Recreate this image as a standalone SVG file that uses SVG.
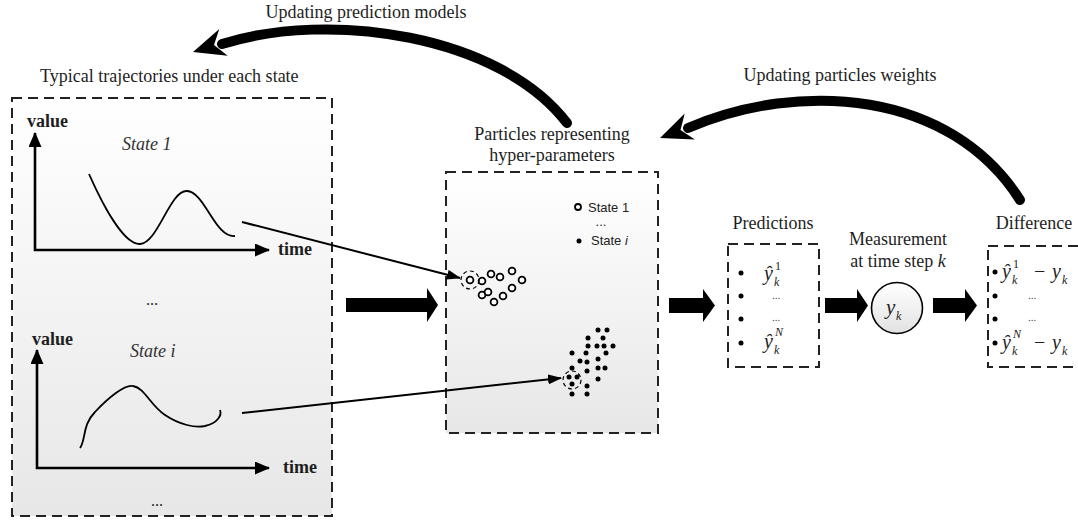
<svg xmlns="http://www.w3.org/2000/svg" width="1078" height="520" viewBox="0 0 1078 520">
<style>
.t{font-family:"Liberation Serif","Times New Roman",serif;fill:#1e1e1e}
.s18{font-size:18px}
.b{font-weight:bold}
.it{font-style:italic}
.dash{fill:none;stroke:#222;stroke-width:2;stroke-dasharray:10 6}
.ax{fill:none;stroke:#000;stroke-width:2.6}
.cur{fill:none;stroke:#000;stroke-width:1.8}
.thin{fill:none;stroke:#000;stroke-width:2}
.big{fill:none;stroke:#000;stroke-width:10;stroke-linecap:round}
.blk{fill:#000}
.po{fill:#fff;stroke:#000;stroke-width:1.8}
.pd{fill:#000}
.dc{fill:none;stroke:#000;stroke-width:1.2;stroke-dasharray:4 3}
.sans{font-family:"Liberation Sans",Arial,sans-serif;font-size:13px;fill:#222}
.m{font-family:"Liberation Serif","Times New Roman",serif;font-style:italic;fill:#222}
</style>
<defs>
<linearGradient id="gbox" x1="0" y1="0" x2="0" y2="1">
<stop offset="0" stop-color="#ffffff"/>
<stop offset="1" stop-color="#e7e7e7"/>
</linearGradient>
<linearGradient id="gcir" x1="0" y1="0" x2="0" y2="1">
<stop offset="0" stop-color="#ffffff"/>
<stop offset="1" stop-color="#e2e2e2"/>
</linearGradient>
<marker id="ah" viewBox="0 0 14 10" refX="13" refY="5" markerWidth="14" markerHeight="10" orient="auto" markerUnits="userSpaceOnUse">
<path d="M0,0 L14,5 L0,10 Z" fill="#000"/>
</marker>
<marker id="axh" viewBox="0 0 15 13" refX="14" refY="6.5" markerWidth="15" markerHeight="13" orient="auto-start-reverse" markerUnits="userSpaceOnUse">
<path d="M0,0 L15,6.5 L0,13 Z" fill="#000"/>
</marker>
</defs>
<rect width="1078" height="520" fill="#fff"/>

<g id="trajectories">
<text class="t s18" x="40" y="82">Typical trajectories under each state</text>
<rect class="dash" x="12" y="98" width="320" height="418" style="fill:url(#gbox)"/>
<path class="ax" d="M35,133 V250 H269" marker-start="url(#axh)" marker-end="url(#axh)"/>
<text class="t s18 b" x="27" y="127">value</text>
<text class="t s18 b" x="278" y="255">time</text>
<text class="t s18 it" x="122" y="150" style="fill:#333">State 1</text>
<path class="cur" d="M89,174 C105,210 125,245 140,244 C158,243 170,190 187,191 C205,192 215,238 235,236"/>
<text class="t" x="152" y="305" font-size="16" text-anchor="middle">...</text>
<path class="ax" d="M37,350 V468 H269" marker-start="url(#axh)" marker-end="url(#axh)"/>
<text class="t s18 b" x="32" y="345">value</text>
<text class="t s18 b" x="283" y="473">time</text>
<text class="t s18 it" x="130" y="357" style="fill:#333">State i</text>
<path class="cur" d="M80,448 C86,440 82,425 95,412 C108,398 125,384 133,386 C145,388 150,405 165,415 C180,425 195,428 205,426 C218,423 222,415 220,410"/>
<text class="t" x="157" y="506" font-size="16" text-anchor="middle">...</text>
</g>

<g id="particles">
<text class="t s18" x="552" y="140" text-anchor="middle">Particles representing</text>
<text class="t s18" x="552" y="161" text-anchor="middle">hyper-parameters</text>
<rect class="dash" x="446" y="172" width="212" height="261" style="fill:url(#gbox)"/>
<circle class="po" cx="578" cy="207" r="3"/>
<text class="sans" x="588" y="212">State 1</text>
<text class="sans" x="601" y="226" font-size="9" text-anchor="middle">...</text>
<circle class="pd" cx="579" cy="241" r="2.5"/>
<text class="sans" x="591" y="245">State <tspan font-style="italic">i</tspan></text>
<g>
<circle class="po" cx="470" cy="280" r="3.4"/>
<circle class="po" cx="482" cy="281" r="3.4"/>
<circle class="po" cx="491" cy="274" r="3.4"/>
<circle class="po" cx="500" cy="277" r="3.4"/>
<circle class="po" cx="512" cy="271" r="3.4"/>
<circle class="po" cx="522" cy="280" r="3.4"/>
<circle class="po" cx="482" cy="295" r="3.4"/>
<circle class="po" cx="488" cy="292" r="3.4"/>
<circle class="po" cx="494" cy="302" r="3.4"/>
<circle class="po" cx="503" cy="296" r="3.4"/>
<circle class="po" cx="512" cy="288" r="3.4"/>
</g>
<circle class="dc" cx="470" cy="280" r="9"/>
<g>
<circle class="pd" cx="598" cy="330" r="2.5"/>
<circle class="pd" cx="607" cy="330" r="2.5"/>
<circle class="pd" cx="588" cy="338" r="2.5"/>
<circle class="pd" cx="603" cy="338" r="2.5"/>
<circle class="pd" cx="588" cy="346" r="2.5"/>
<circle class="pd" cx="597" cy="346" r="2.5"/>
<circle class="pd" cx="604" cy="346" r="2.5"/>
<circle class="pd" cx="613" cy="346" r="2.5"/>
<circle class="pd" cx="572" cy="353" r="2.5"/>
<circle class="pd" cx="586" cy="353" r="2.5"/>
<circle class="pd" cx="606" cy="353" r="2.5"/>
<circle class="pd" cx="580" cy="361" r="2.5"/>
<circle class="pd" cx="587" cy="362" r="2.5"/>
<circle class="pd" cx="598" cy="359" r="2.5"/>
<circle class="pd" cx="572" cy="368" r="2.5"/>
<circle class="pd" cx="587" cy="371" r="2.5"/>
<circle class="pd" cx="598" cy="368" r="2.5"/>
<circle class="pd" cx="605" cy="368" r="2.5"/>
<circle class="pd" cx="569" cy="377" r="2.5"/>
<circle class="pd" cx="577" cy="377" r="2.5"/>
<circle class="pd" cx="598" cy="379" r="2.5"/>
<circle class="pd" cx="572" cy="384" r="2.5"/>
<circle class="pd" cx="587" cy="386" r="2.5"/>
<circle class="pd" cx="572" cy="394" r="2.5"/>
<circle class="pd" cx="587" cy="394" r="2.5"/>
</g>
<circle class="dc" cx="572" cy="380" r="9"/>
</g>

<g id="predictions">
<text class="t s18" x="773" y="229" text-anchor="middle">Predictions</text>
<rect class="dash" x="728" y="244" width="91" height="123" fill="#fff"/>
<circle class="pd" cx="741" cy="273" r="2.5"/>
<circle class="pd" cx="741" cy="296" r="2.5"/>
<circle class="pd" cx="741" cy="319" r="2.5"/>
<circle class="pd" cx="741" cy="343" r="2.5"/>
<text class="m" x="764" y="280" font-size="20">ŷ</text>
<text class="m" x="775" y="270" font-size="12" style="font-style:normal">1</text>
<text class="m" x="774" y="286" font-size="12">k</text>
<text class="t" x="776" y="299" font-size="11" text-anchor="middle" style="fill:#444">...</text>
<text class="t" x="776" y="321" font-size="11" text-anchor="middle" style="fill:#444">...</text>
<text class="m" x="764" y="348" font-size="20">ŷ</text>
<text class="m" x="775" y="336" font-size="12">N</text>
<text class="m" x="774" y="354" font-size="12">k</text>
</g>

<g id="measurement">
<text class="t s18" x="898" y="245" text-anchor="middle">Measurement</text>
<text class="t s18" x="898" y="267" text-anchor="middle">at time step <tspan font-style="italic">k</tspan></text>
<circle cx="897" cy="308" r="25.5" fill="url(#gcir)" stroke="#000" stroke-width="1.6"/>
<text class="m" x="886" y="314" font-size="21">y</text>
<text class="m" x="896" y="320" font-size="12">k</text>
</g>

<g id="difference">
<text class="t s18" x="1034" y="229" text-anchor="middle">Difference</text>
<rect class="dash" x="988" y="246" width="110" height="121" fill="#fff"/>
<circle class="pd" cx="995" cy="272" r="2.5"/>
<circle class="pd" cx="995" cy="296" r="2.5"/>
<circle class="pd" cx="995" cy="319" r="2.5"/>
<circle class="pd" cx="995" cy="343" r="2.5"/>
<text class="m" x="1002" y="278" font-size="20">ŷ</text>
<text class="m" x="1013" y="268" font-size="12" style="font-style:normal">1</text>
<text class="m" x="1012" y="284" font-size="12">k</text>
<text class="t" x="1034" y="278" font-size="20">−</text>
<text class="m" x="1052" y="278" font-size="20">y</text>
<text class="m" x="1062" y="284" font-size="12">k</text>
<text class="t" x="1032" y="299" font-size="11" text-anchor="middle" style="fill:#444">...</text>
<text class="t" x="1032" y="321" font-size="11" text-anchor="middle" style="fill:#444">...</text>
<text class="m" x="1002" y="349" font-size="20">ŷ</text>
<text class="m" x="1013" y="338" font-size="12">N</text>
<text class="m" x="1012" y="355" font-size="12">k</text>
<text class="t" x="1034" y="349" font-size="20">−</text>
<text class="m" x="1052" y="349" font-size="20">y</text>
<text class="m" x="1062" y="355" font-size="12">k</text>
</g>

<g id="connectors">
<text class="t s18" x="366" y="18" text-anchor="middle">Updating prediction models</text>
<path class="big" d="M567,123 C500,35 330,10 222,44"/>
<path class="blk" d="M193,52 L219.3,29 L214,45 L227.7,55.8 Z"/>
<text class="t s18" x="840" y="81" text-anchor="middle">Updating particles weights</text>
<path class="big" d="M1020,200 C950,90 800,80 688,128"/>
<path class="blk" d="M660,138 L684.7,113.4 L680.5,130.1 L694.9,139.6 Z"/>
<path class="thin" d="M242,222 L460,278" marker-end="url(#ah)"/>
<path class="thin" d="M242,413 L561,378" marker-end="url(#ah)"/>
<path class="blk" d="M346,298 H427 V288 L438,305 L427,322 V312 H346 Z"/>
<path class="blk" d="M669,298 H703 V289 L715,305.5 L703,322 V313 H669 Z"/>
<path class="blk" d="M825,298 H857 V289 L868,305.5 L857,322 V313 H825 Z"/>
<path class="blk" d="M933,298 H965 V289 L977,305.5 L965,322 V313 H933 Z"/>
</g>
</svg>
